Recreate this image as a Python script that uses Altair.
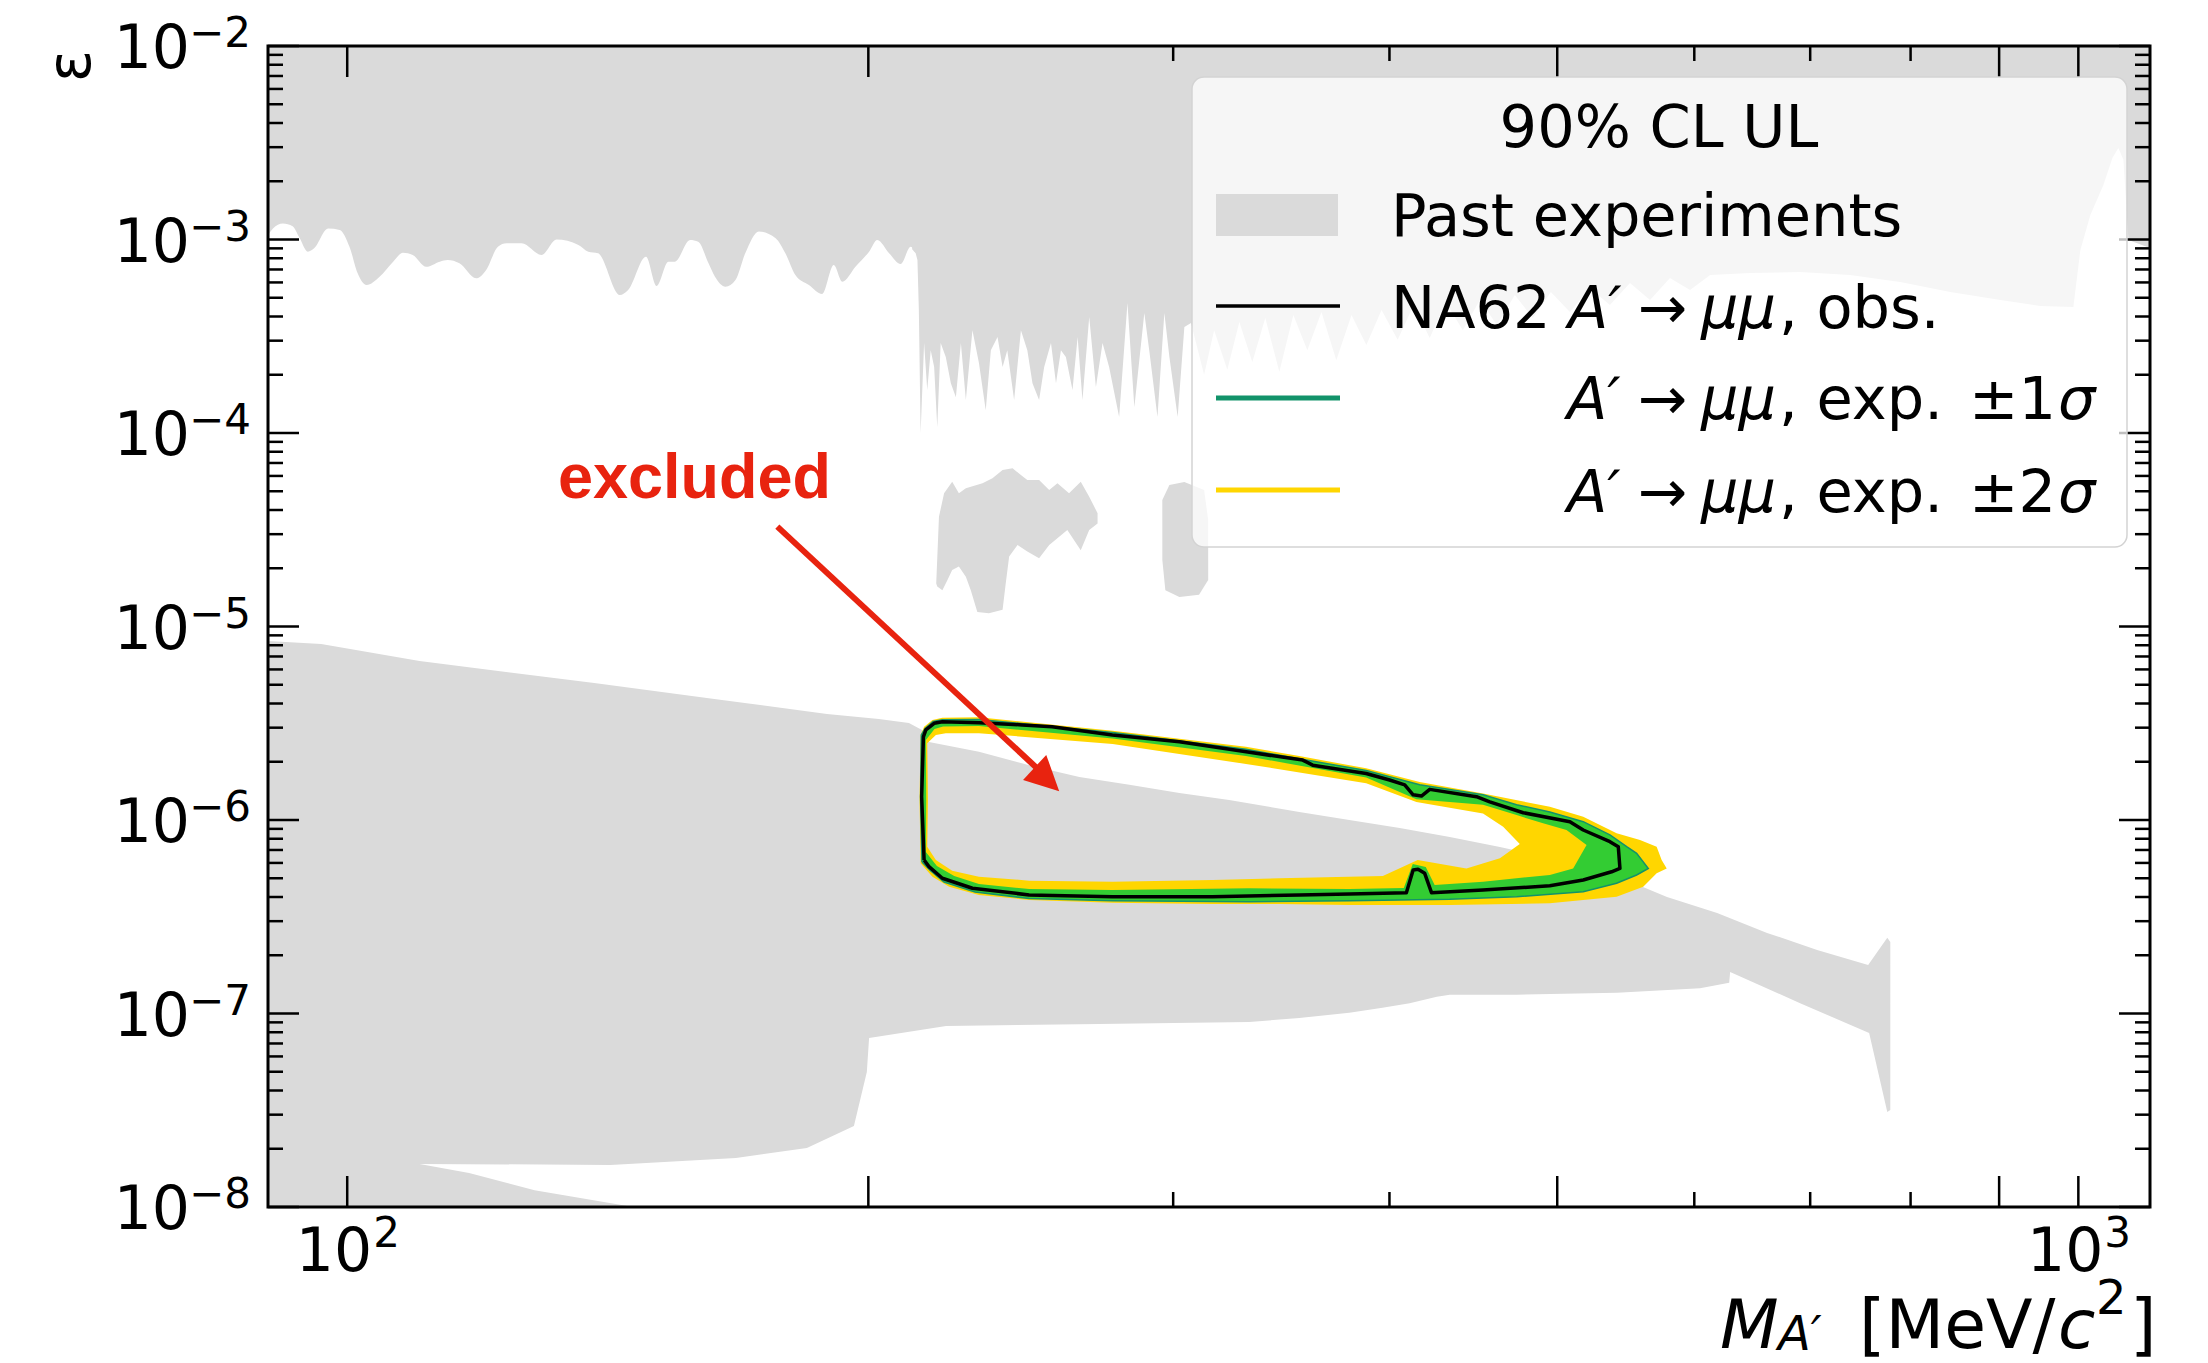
import altair as alt
import pandas as pd

FONT = "DejaVu Sans"
GRAY = "#dadada"
YELLOW = "#ffd600"
GREEN = "#33cc33"
TEAL = "#12936a"
RED = "#e8230f"

# ---------------- Past experiments ----------------
# upper excluded region, lower edge below ~213 MeV (smooth part)
upper_a_mass = [
    90, 90.6, 91.8, 93.0, 93.8, 94.9, 95.7, 97.5, 99.0, 100.3, 101.4, 102.6, 104.4, 106.3, 107.7,
    109.1, 111.1, 113.1, 114.3, 116.1, 118.7, 120.3, 122.2, 123.6, 126.1, 129.5, 132.1, 136.0, 137.8,
    139.6, 143.7, 145.3, 148.8, 150.9, 153.3, 154.6, 157.8, 159.5, 161.7, 163.1, 165.4, 167.6, 169.8,
    172.9, 176.8, 179.1, 181.5, 184.8, 188.1, 191.0, 193.2, 196.6, 200.2, 202.4, 205.6, 208.8, 211.6,
    213.0,
]
upper_a_eps = [
    1.05e-3, 1.14e-3, 1.21e-3, 1.17e-3, 1.03e-3, 8.65e-4, 9.00e-4, 1.14e-3, 1.12e-3, 9.18e-4, 6.69e-4,
    5.82e-4, 6.42e-4, 7.68e-4, 8.55e-4, 8.32e-4, 7.23e-4, 7.68e-4, 7.83e-4, 7.53e-4, 6.30e-4, 6.96e-4,
    9.18e-4, 9.56e-4, 9.56e-4, 8.32e-4, 1.00e-3, 9.37e-4, 8.65e-4, 8.49e-4, 5.16e-4, 5.48e-4, 8.15e-4,
    5.75e-4, 7.68e-4, 7.68e-4, 9.94e-4, 9.74e-4, 7.53e-4, 6.42e-4, 5.70e-4, 6.18e-4, 8.49e-4, 1.10e-3,
    1.015e-3, 8.49e-4, 6.56e-4, 5.82e-4, 5.23e-4, 7.38e-4, 6.05e-4, 7.23e-4, 8.65e-4, 9.94e-4, 8.49e-4,
    7.47e-4, 9.18e-4, 8.49e-4,
]
# upper excluded region, lower edge above ~213 MeV (resonance-scan part)
upper_b_mass = [
    212.0, 213.0,
    213.5, 213.9, 214.4, 215.4, 216.3, 217.3, 218.3, 219.2, 220.2, 221.7, 223.2, 224.7, 226.2, 227.7,
    229.7, 231.7, 233.8, 235.4, 237.5, 239.1, 240.6, 242.8, 245.0, 247.1, 248.8, 251.0, 252.7, 255.0,
    256.7, 258.4, 260.1, 262.4, 264.2, 265.9, 268.3, 270.7, 273.1, 275.5, 279.2, 282.3, 284.9, 288.7,
    290.6, 293.8, 296.5, 298.5, 301.8, 304.5, 307.2,
    312.6, 316.8, 322.4, 327.6, 333.3, 339.1, 345.5, 352.0, 358.6, 365.4, 372.7, 380.3, 387.9, 395.8,
    404.4, 413.1, 422.0, 431.1, 441.0, 451.1, 461.4, 472.6, 484.0, 495.8, 508.5, 522.2, 536.3, 550.8,
    565.7, 580.9, 596.6, 612.8, 646.2, 690.7, 738.2, 788.9, 843.4, 901.6, 950.7, 993.4, 1002.7,
    1016.1, 1033.9, 1046.3, 1054.7, 1061.8, 1068.9, 1100,
]
upper_b_eps = [
    8.9e-4, 8.49e-4,
    7.83e-4, 4.32e-4, 1.00e-4, 2.92e-4, 1.67e-4, 2.68e-4, 2.19e-4, 1.07e-4, 2.92e-4, 2.47e-4, 1.81e-4,
    1.53e-4, 2.92e-4, 1.48e-4, 3.40e-4, 2.30e-4, 1.31e-4, 2.68e-4, 3.13e-4, 2.19e-4, 2.68e-4, 1.48e-4,
    3.40e-4, 2.68e-4, 1.81e-4, 1.48e-4, 2.19e-4, 2.92e-4, 1.81e-4, 2.68e-4, 2.47e-4, 1.67e-4, 3.13e-4,
    1.48e-4, 3.98e-4, 1.73e-4, 2.92e-4, 2.19e-4, 1.21e-4, 4.70e-4, 1.36e-4, 4.17e-4, 2.68e-4, 1.21e-4,
    4.17e-4, 2.47e-4, 1.21e-4, 3.53e-4, 3.70e-4,
    2.00e-4, 3.40e-4, 2.12e-4, 3.75e-4, 2.33e-4, 3.93e-4, 2.07e-4, 4.07e-4, 2.68e-4, 4.22e-4, 2.38e-4,
    4.07e-4, 2.85e-4, 4.32e-4, 3.03e-4, 4.59e-4, 3.10e-4, 4.75e-4, 3.40e-4, 4.87e-4, 3.61e-4, 5.16e-4,
    3.93e-4, 5.35e-4, 4.22e-4, 5.61e-4, 4.59e-4, 5.96e-4, 4.87e-4, 6.33e-4, 5.48e-4, 6.56e-4, 6.71e-4,
    6.79e-4, 6.56e-4, 6.03e-4, 5.35e-4, 4.87e-4, 4.53e-4, 4.48e-4, 8.83e-4, 1.34e-3, 1.91e-3, 2.64e-3,
    2.97e-3, 2.58e-3, 9.94e-4, 9.04e-4,
]

# lower excluded region (outline, walked clockwise)
low_mass = [
    90, 96.6, 110.1, 138.9, 164.6, 189.3, 202.8, 211.1, 214.8, 216.8, 231.7, 247.7, 264.8, 283.0,
    302.5, 323.2, 354.8, 379.2, 405.5, 433.4, 463.3, 501.7, 560.4, 578.6, 618.5, 661.0, 706.5, 756.1,
    775.6, 778.7, 778.7, 775.6, 757.1, 690.7, 629.3, 628.5, 604.6, 541.3, 473.8, 433.4, 426.0, 410.9,
    396.3, 379.2, 354.8, 331.9, 271.9, 221.8, 200.2, 199.6, 196.2, 184.3, 167.7, 141.9, 110.1, 117.6,
    128.3, 146.3, 90,
]
low_eps = [
    8.41e-6, 8.12e-6, 6.63e-6, 5.10e-6, 4.17e-6, 3.53e-6, 3.33e-6, 3.17e-6, 2.92e-6, 2.53e-6, 2.25e-6,
    1.92e-6, 1.67e-6, 1.52e-6, 1.38e-6, 1.27e-6, 1.10e-6, 1.00e-6, 9.09e-7, 8.17e-7, 7.25e-7, 6.21e-7,
    4.51e-7, 4.00e-7, 3.31e-7, 2.61e-7, 2.13e-7, 1.78e-7, 2.46e-7, 2.34e-7, 3.17e-8, 3.10e-8, 7.93e-8,
    1.13e-7, 1.64e-7, 1.44e-7, 1.35e-7, 1.28e-7, 1.25e-7, 1.25e-7, 1.22e-7, 1.13e-7, 1.07e-7, 1.01e-7,
    9.48e-8, 9.04e-8, 8.83e-8, 8.62e-8, 7.47e-8, 4.99e-8, 2.62e-8, 2.02e-8, 1.79e-8, 1.65e-8, 1.67e-8,
    1.50e-8, 1.22e-8, 1.00e-8, 1.00e-8,
]

# two isolated islands around eps ~ 1e-5 .. 6e-5
isle_a_mass = [
    218.9, 219.7, 221.2, 223.6, 225.6, 227.7, 232.8, 235.9, 239.1, 242.3, 245.0, 247.1, 251.0, 254.4,
    257.2, 261.2, 265.3, 268.3, 271.3, 271.3, 268.3, 265.3, 260.6, 257.8, 254.4, 251.0, 247.1, 243.9,
    241.2, 240.1, 239.1, 234.8, 231.2, 229.2, 227.7, 225.6, 223.6, 222.2, 220.7, 219.2,
]
isle_a_eps = [
    1.67e-5, 3.69e-5, 4.88e-5, 5.60e-5, 4.88e-5, 5.18e-5, 5.50e-5, 5.83e-5, 6.44e-5, 6.57e-5, 6.07e-5,
    5.72e-5, 5.72e-5, 5.07e-5, 5.50e-5, 4.88e-5, 5.60e-5, 4.69e-5, 3.85e-5, 3.41e-5, 3.15e-5, 2.48e-5,
    3.15e-5, 2.91e-5, 2.64e-5, 2.25e-5, 2.44e-5, 2.64e-5, 2.30e-5, 1.67e-5, 1.22e-5, 1.17e-5, 1.19e-5,
    1.54e-5, 1.81e-5, 2.04e-5, 1.96e-5, 1.74e-5, 1.54e-5, 1.61e-5,
]
isle_b_mass = [295.7, 298.5, 304.5, 312.6, 314.3, 314.3, 310.5, 302.5, 296.9, 295.7]
isle_b_eps = [4.51e-5, 5.38e-5, 5.58e-5, 5.07e-5, 3.55e-5, 1.74e-5, 1.46e-5, 1.42e-5, 1.54e-5, 2.21e-5]

# ---------------- NA62 A' -> mu mu ----------------
obs_mass = [
    215.4, 214.7, 215.2, 215.9, 218.3, 220.7, 231.7, 245.4, 255.4, 276.7, 302.5, 330.6, 356.4, 361.2,
    387.8, 400.1, 408.2, 412.8, 417.4, 422.0, 449.1, 457.1, 477.9, 508.5, 517.6, 536.3, 542.3, 543.5,
    537.5, 517.6, 495.1, 453.0, 423.0, 419.2, 415.5, 412.8, 409.1, 379.2, 354.8, 316.0, 276.7, 247.7,
    229.7, 220.7, 216.8, 215.4,
]
obs_eps = [
    6.21e-7, 1.32e-6, 2.69e-6, 2.92e-6, 3.16e-6, 3.22e-6, 3.18e-6, 3.10e-6, 3.03e-6, 2.75e-6, 2.54e-6,
    2.25e-6, 2.04e-6, 1.92e-6, 1.74e-6, 1.61e-6, 1.52e-6, 1.35e-6, 1.33e-6, 1.44e-6, 1.32e-6, 1.24e-6,
    1.09e-6, 9.80e-7, 8.88e-7, 7.73e-7, 7.28e-7, 5.62e-7, 5.40e-7, 4.90e-7, 4.57e-7, 4.35e-7, 4.21e-7,
    5.30e-7, 5.56e-7, 5.51e-7, 4.21e-7, 4.15e-7, 4.10e-7, 4.01e-7, 4.01e-7, 4.10e-7, 4.44e-7, 5.00e-7,
    5.74e-7, 6.21e-7,
]

# expected +-2 sigma band: outer and inner edges
s2_out_mass = [
    214.4, 214.1, 214.4, 215.4, 217.8, 220.7, 231.7, 276.8, 330.5, 354.8, 387.8, 416.4, 453.0, 495.1,
    517.6, 541.1, 558.2, 570.7, 574.5, 578.4, 570.7, 560.6, 541.1, 495.1, 433.4, 379.2, 345.5, 316.1,
    276.8, 247.7, 231.7, 222.7, 217.8,
]
s2_out_eps = [
    5.97e-7, 1.27e-6, 2.75e-6, 3.03e-6, 3.29e-6, 3.38e-6, 3.40e-6, 2.89e-6, 2.39e-6, 2.14e-6, 1.85e-6,
    1.57e-6, 1.37e-6, 1.17e-6, 1.04e-6, 8.54e-7, 7.88e-7, 7.28e-7, 6.21e-7, 5.62e-7, 5.30e-7, 4.52e-7,
    4.01e-7, 3.71e-7, 3.64e-7, 3.64e-7, 3.68e-7, 3.68e-7, 3.74e-7, 3.86e-7, 4.10e-7, 4.52e-7, 5.09e-7,
]
s2_in_mass = [
    216.3, 216.5, 216.3, 218.8, 221.7, 231.7, 276.8, 330.5, 387.8, 414.6, 453.0, 465.3, 475.7, 463.3,
    443.1, 415.3, 396.5, 345.5, 316.1, 276.8, 247.7, 231.7, 223.6, 218.8,
]
s2_in_eps = [
    7.28e-7, 1.27e-6, 2.49e-6, 2.75e-6, 2.81e-6, 2.81e-6, 2.47e-6, 1.95e-6, 1.55e-6, 1.24e-6, 1.08e-6,
    9.23e-7, 7.51e-7, 6.34e-7, 5.62e-7, 6.21e-7, 5.14e-7, 5.00e-7, 4.90e-7, 4.80e-7, 4.86e-7, 5.09e-7,
    5.47e-7, 6.21e-7,
]
# expected +-1 sigma band: outer and inner edges
s1_out_mass = [
    214.8, 214.4, 214.6, 215.7, 218.0, 220.7, 231.7, 276.8, 330.5, 387.8, 416.4, 453.0, 473.7, 495.1,
    517.6, 536.3, 548.4, 555.7, 564.4, 555.7, 541.1, 517.6, 473.7, 433.4, 379.2, 331.9, 276.8, 247.7,
    230.5, 221.2, 217.1,
]
s1_out_eps = [
    6.07e-7, 1.27e-6, 2.75e-6, 2.97e-6, 3.23e-6, 3.30e-6, 3.31e-6, 2.83e-6, 2.32e-6, 1.80e-6, 1.52e-6,
    1.35e-6, 1.20e-6, 1.10e-6, 9.80e-7, 8.37e-7, 7.28e-7, 6.73e-7, 5.62e-7, 5.20e-7, 4.71e-7, 4.26e-7,
    4.01e-7, 3.89e-7, 3.83e-7, 3.78e-7, 3.83e-7, 3.93e-7, 4.25e-7, 4.78e-7, 5.51e-7,
]
s1_in_mass = [
    215.9, 216.0, 215.9, 218.4, 220.9, 231.7, 276.8, 330.5, 387.8, 414.6, 453.0, 473.7, 490.7, 506.2,
    519.9, 510.7, 495.1, 453.0, 424.8, 419.8, 412.6, 407.7, 379.2, 331.9, 276.8, 247.7, 231.7, 224.2,
    219.1,
]
s1_in_eps = [
    6.84e-7, 1.27e-6, 2.59e-6, 2.95e-6, 3.04e-6, 3.06e-6, 2.64e-6, 2.14e-6, 1.66e-6, 1.28e-6, 1.20e-6,
    1.06e-6, 9.61e-7, 8.88e-7, 7.43e-7, 5.62e-7, 5.20e-7, 4.80e-7, 4.62e-7, 5.72e-7, 5.93e-7, 4.45e-7,
    4.40e-7, 4.44e-7, 4.35e-7, 4.40e-7, 4.67e-7, 5.14e-7, 5.79e-7,
]

# "excluded" annotation and its arrow
note_mass, note_eps = [158.7], [4.61e-5]
arrow_mass, arrow_eps = [177.2, 251.0], [3.28e-5, 1.81e-6]
head_mass, head_eps = [257.8, 245.7, 253.4], [1.41e-6, 1.61e-6, 2.17e-6]

# axis ticks and their labels
x_major = [100, 200, 500, 900, 1000]
x_minor = [300, 400, 600, 700, 800]
x_labelled = [100, 1000]
x_powers = ["2", "3"]
y_major = [1e-8, 1e-7, 1e-6, 1e-5, 1e-4, 1e-3, 1e-2]
y_powers = ["−8", "−7", "−6", "−5", "−4", "−3", "−2"]
y_minor = [k * d for d in [1e-8, 1e-7, 1e-6, 1e-5, 1e-4, 1e-3] for k in range(2, 10)]

W, H = 1882, 1161

XS = alt.Scale(type="log", domain=[90, 1100], nice=False)
YS = alt.Scale(type="log", domain=[1e-8, 1e-2], nice=False)


def ex(field):
    return alt.X(f"{field}:Q", scale=XS, axis=None)


def ey(field):
    return alt.Y(f"{field}:Q", scale=YS, axis=None)


def path(mass, eps):
    return pd.DataFrame({"m": list(mass), "e": list(eps), "i": list(range(len(mass)))})


def ring(om, oe, im, ie):
    # outer edge, then the inner edge walked backwards -> hole in the middle
    m = list(om) + [om[0], im[0]] + list(im[::-1])
    e = list(oe) + [oe[0], ie[0]] + list(ie[::-1])
    return path(m, e)


def shape(df, color):
    return alt.Chart(df).mark_line(
        fill=color, strokeOpacity=0, interpolate="linear", clip=True
    ).encode(x=ex("m"), y=ey("e"), order="i:Q")


def band_to_top(mass, eps, interp):
    df = pd.DataFrame({"m": mass, "e": eps, "ceil": 1e-2})
    return alt.Chart(df).mark_area(color=GRAY, clip=True, interpolate=interp).encode(
        x=ex("m"), y=ey("e"), y2="ceil:Q"
    )


layers = [
    band_to_top(upper_a_mass, upper_a_eps, "monotone"),
    band_to_top(upper_b_mass, upper_b_eps, "linear"),
    shape(path(low_mass, low_eps), GRAY),
    shape(path(isle_a_mass, isle_a_eps), GRAY),
    shape(path(isle_b_mass, isle_b_eps), GRAY),
    shape(ring(s2_out_mass, s2_out_eps, s2_in_mass, s2_in_eps), YELLOW),
    shape(ring(s1_out_mass, s1_out_eps, s1_in_mass, s1_in_eps), GREEN),
    alt.Chart(path(s1_out_mass + s1_out_mass[:1], s1_out_eps + s1_out_eps[:1]))
    .mark_line(color=TEAL, strokeWidth=1.5, clip=True)
    .encode(x=ex("m"), y=ey("e"), order="i:Q"),
    alt.Chart(path(obs_mass, obs_eps))
    .mark_line(color="black", strokeWidth=3.5, strokeJoin="round", clip=True)
    .encode(x=ex("m"), y=ey("e"), order="i:Q"),
    # annotation
    alt.Chart(path(arrow_mass, arrow_eps))
    .mark_line(color=RED, strokeWidth=6, strokeCap="butt")
    .encode(x=ex("m"), y=ey("e"), order="i:Q"),
    shape(path(head_mass, head_eps), RED),
    alt.Chart(pd.DataFrame({"m": note_mass, "e": note_eps, "t": ["excluded"]}))
    .mark_text(font="Liberation Sans", fontWeight="bold", fontSize=63, color=RED,
               align="center", baseline="alphabetic")
    .encode(x=ex("m"), y=ey("e"), text="t:N"),
]

# inward ticks on all four sides
for vals, L in [(x_major, 31), (x_minor, 15)]:
    base = alt.Chart(pd.DataFrame({"t": vals})).mark_rule(color="black", strokeWidth=2.5)
    layers.append(base.encode(x=ex("t"), y=alt.value(H), y2=alt.value(H - L)))
    layers.append(base.encode(x=ex("t"), y=alt.value(0), y2=alt.value(L)))
for vals, L in [(y_major, 31), (y_minor, 15)]:
    base = alt.Chart(pd.DataFrame({"t": vals})).mark_rule(color="black", strokeWidth=2.5)
    layers.append(base.encode(y=ey("t"), x=alt.value(0), x2=alt.value(L)))
    layers.append(base.encode(y=ey("t"), x=alt.value(W), x2=alt.value(W - L)))

# tick labels written as 10 with a raised exponent
xl = pd.DataFrame({"t": x_labelled, "p": x_powers})
yl = pd.DataFrame({"t": y_major, "p": y_powers})
layers += [
    alt.Chart(xl).mark_text(text="10", align="right", baseline="alphabetic", font=FONT,
                            fontSize=60, dx=25, color="black")
    .encode(x=ex("t"), y=alt.value(H + 64)),
    alt.Chart(xl).mark_text(align="left", baseline="alphabetic", font=FONT, fontSize=42, dx=26,
                            color="black")
    .encode(x=ex("t"), y=alt.value(H + 40), text="p:N"),
    alt.Chart(yl).mark_text(text="10", align="right", baseline="alphabetic", font=FONT,
                            fontSize=60, dy=22, color="black")
    .encode(y=ey("t"), x=alt.value(-78)),
    alt.Chart(yl).mark_text(align="left", baseline="alphabetic", font=FONT, fontSize=42, dy=1,
                            color="black")
    .encode(y=ey("t"), x=alt.value(-79), text="p:N"),
]

ONE = pd.DataFrame({"k": [0]})

# frame
layers.append(
    alt.Chart(ONE).mark_rect(fillOpacity=0, stroke="black", strokeWidth=3)
    .encode(x=alt.value(0), x2=alt.value(W), y=alt.value(0), y2=alt.value(H))
)


def txt(s, x, y, size=59, italic=False, align="left", baseline="alphabetic", **kw):
    return alt.Chart(ONE).mark_text(
        text=s, align=align, baseline=baseline, font=FONT, fontSize=size,
        fontStyle="italic" if italic else "normal", color="black", **kw
    ).encode(x=alt.value(x), y=alt.value(y))


# legend
layers.append(
    alt.Chart(ONE).mark_rect(fill="white", fillOpacity=0.75, stroke="#d3d3d3", strokeWidth=1.5,
                             cornerRadius=12)
    .encode(x=alt.value(924), x2=alt.value(1859), y=alt.value(31), y2=alt.value(501))
)
layers.append(txt("90% CL UL", 1391, 101, align="center"))
layers.append(
    alt.Chart(ONE).mark_rect(color=GRAY)
    .encode(x=alt.value(948), x2=alt.value(1070), y=alt.value(148), y2=alt.value(190))
)
layers.append(txt("Past experiments", 1123, 190))
for color, yl_, width in [("black", 260, 3.5), (TEAL, 352, 5), (YELLOW, 444, 5)]:
    layers.append(
        alt.Chart(ONE).mark_rule(color=color, strokeWidth=width)
        .encode(x=alt.value(948), x2=alt.value(1072), y=alt.value(yl_))
    )
layers += [
    txt("NA62", 1123, 282), txt("A′", 1300, 282, italic=True), txt("→", 1370, 282),
    txt("μμ", 1433, 282, italic=True), txt(", obs.", 1511, 282),
]
for yb, n in [(373, "1"), (466, "2")]:
    layers += [
        txt("A′", 1299, yb, italic=True), txt("→", 1370, yb), txt("μμ", 1433, yb, italic=True),
        txt(", exp.", 1511, yb), txt("±" + n, 1701, yb), txt("σ", 1790, yb, italic=True),
    ]

# axis titles
layers.append(txt("ε", -196, 20, size=60, align="center", baseline="middle", angle=270))
layers += [
    txt("M", 1452, 1302, size=68, italic=True),
    txt("A′", 1510, 1304, size=48, italic=True),
    txt("[MeV/", 1591, 1302, size=68),
    txt("c", 1790, 1302, size=68, italic=True),
    txt("2", 1828, 1268, size=48),
    txt("]", 1862, 1302, size=68),
]

chart = alt.layer(*layers).properties(
    width=W, height=H,
    autosize=alt.AutoSizeParams(type="none"),
    padding={"left": 268, "top": 46, "right": 58, "bottom": 156},
).configure_view(strokeWidth=0).configure(font=FONT)

chart.save("out.html", embed_options={"renderer": "svg", "actions": False})
